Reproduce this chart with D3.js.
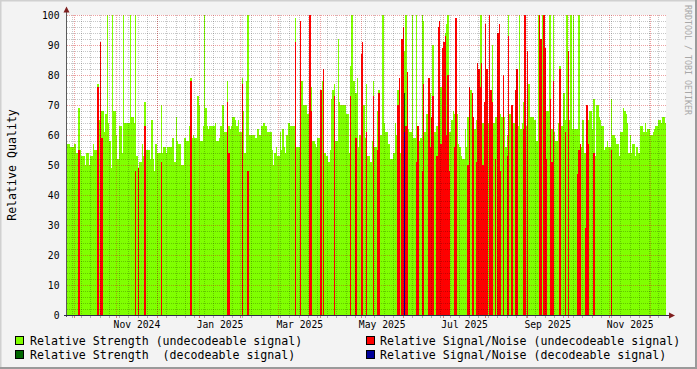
<!DOCTYPE html>
<html>
<head>
<meta charset="utf-8">
<script src="https://cdn.jsdelivr.net/npm/d3@7"></script>
<style>
  body { margin: 0; background: #f3f3f3; }
  svg { display: block; }
  text { font-family: "DejaVu Sans Mono", monospace; }
</style>
</head>
<body>
<svg id="chart"></svg>
<script>
// daily values, first day 2024-09-25
const firstDay = "2024-09-25";
const strengthUndec = [
  57,57,57,56,56,56,57,54,54,69, 55,53,53,53,50,54,54,50,53,53,
  57,55,55,77,65,65,68,68,61,67, 100,64,58,49,100,68,68,60,52,63,
  63,54,100,64,64,64,64,100,66,66, 64,100,53,49,51,51,57,53,71,55,
  55,55,52,65,52,48,57,54,54,54, 70,54,56,56,54,56,56,56,59,59,
  51,66,58,57,57,50,50,59,59,58, 58,63,79,59,60,59,59,73,70,58,
  58,63,100,69,63,62,63,63,63,63, 64,58,58,59,63,70,70,61,61,78,
  63,62,63,66,66,65,63,65,61,61, 79,68,54,78,100,60,60,60,60,60,
  59,62,62,60,63,63,64,63,63,61, 61,61,55,50,54,56,53,53,61,55,
  62,56,54,60,64,64,63,63,63,99, 56,56,56,90,78,70,70,70,67,67,
  67,76,58,58,57,56,59,59,73,78, 54,54,53,53,51,55,72,75,77,58,
  58,92,71,70,70,70,70,67,67,54, 83,100,78,78,74,79,56,60,60,60,
  70,59,77,53,53,51,58,78,56,56, 68,75,60,60,100,64,61,61,57,57,
  52,52,54,64,60,75,54,54,73,84, 88,100,62,62,61,61,100,59,59,100,
  58,58,59,100,98,61,67,67,71,74, 60,90,61,61,63,63,63,76,63,63,
  94,97,100,61,61,65,68,67,67,67, 57,56,53,52,52,62,56,66,75,75,
  66,62,62,65,65,65,100,100,64,64, 64,64,64,64,64,90,64,66,66,66,
  67,67,66,66,66,56,60,100,67,64, 64,64,64,62,63,100,62,64,71,63,
  63,63,77,66,66,66,65,65,58,100, 58,58,100,68,68,68,68,100,100,62,
  100,61,58,58,64,83,63,63,74,65, 100,65,65,100,62,100,62,62,62,100,
  56,56,65,54,54,65,65,68,68,62, 72,53,70,70,66,65,63,63,55,56,
  58,56,56,72,60,60,59,57,57,53, 61,61,69,68,67,64,54,60,54,57,
  57,53,56,54,54,63,63,61,64,61, 62,62,60,60,61,62,63,63,65,65,
  64,66,66,64
];

const snrUndecDates = [
  "2024-10-04","2024-10-18","2024-10-20","2024-10-21","2024-11-15","2024-11-17","2024-11-22","2024-12-04","2024-12-26",
  "2025-01-22","2025-01-23","2025-02-02","2025-02-06","2025-03-13","2025-03-17","2025-03-24","2025-03-25",
  "2025-04-01","2025-04-03","2025-04-11","2025-04-23","2025-04-27","2025-05-01","2025-05-02","2025-05-05","2025-05-10","2025-05-13","2025-05-14","2025-05-28","2025-05-29","2025-05-31",
  "2025-06-01","2025-06-03","2025-06-04","2025-06-11","2025-06-12","2025-06-15","2025-06-16","2025-06-20","2025-06-21","2025-06-22","2025-06-23","2025-06-26","2025-06-27","2025-06-28","2025-06-29","2025-06-30",
  "2025-07-01","2025-07-02","2025-07-03","2025-07-04","2025-07-05","2025-07-09","2025-07-10","2025-07-19","2025-07-20","2025-07-22","2025-07-23","2025-07-25","2025-07-26","2025-07-27","2025-07-28","2025-07-29","2025-07-30","2025-07-31",
  "2025-08-01","2025-08-02","2025-08-04","2025-08-05","2025-08-06","2025-08-08","2025-08-10","2025-08-11","2025-08-12","2025-08-14","2025-08-17","2025-08-18","2025-08-20","2025-08-21","2025-08-23","2025-08-24","2025-08-29","2025-08-30",
  "2025-09-01","2025-09-10","2025-09-11","2025-09-13","2025-09-14","2025-09-15","2025-09-18","2025-09-19","2025-09-20","2025-09-25","2025-09-29",
  "2025-10-01","2025-10-08","2025-10-09","2025-10-10","2025-10-14","2025-10-15","2025-10-16","2025-10-20","2025-11-02"
];
const snrUndecValues = [
  55,76,91,59,48,49,63,51,78,
  71,54,77,48,91,98,100,68,
  75,82,73,73,59,87,91,61,73,55,74,70,79,92,
  96,63,81,51,63,48,77,79,56,66,73,53,96,98,57,89,
  91,93,60,80,48,56,99,50,76,74,66,51,84,82,76,84,50,71,
  97,82,100,75,71,52,94,97,48,80,53,93,70,70,75,82,62,100,
  88,100,92,100,89,52,72,51,78,82,61,
  88,47,55,57,29,70,57,54,55
];

const strengthDecDates = ["2025-06-02"];
const strengthDecValues = [74];
const snrDecDates = ["2025-06-02"];
const snrDecValues = [61];

const labelMonths = ["2024-11","2025-01","2025-03","2025-05","2025-07","2025-09","2025-11"];
const yTicks = [0,10,20,30,40,50,60,70,80,90,100];

const legendItems = [
  {text: "Relative Strength (undecodeable signal)", color: "#80ff00", col: 0, row: 0},
  {text: "Relative Signal/Noise (undecodeable signal)", color: "#ff0000", col: 1, row: 0},
  {text: "Relative Strength  (decodeable signal)", color: "#006600", col: 0, row: 1},
  {text: "Relative Signal/Noise (decodeable signal)", color: "#000099", col: 1, row: 1}
];

const w = 697, h = 369;
const pLeft = 67, pRight = 666, pTop = 15, pBottom = 315;

const parseDay = d3.timeParse("%Y-%m-%d");
const parseMonth = d3.timeParse("%Y-%m");

const svg = d3.select("#chart").attr("width", w).attr("height", h);

// frame
svg.append("rect").attr("width", w).attr("height", h).attr("fill", "#f3f3f3");
svg.append("path").attr("d", `M0,${h} V0 H${w}`).attr("fill", "none")
  .attr("stroke", "#d0d0d0").attr("stroke-width", 3);
svg.append("path").attr("d", `M${w},0 V${h} H0`).attr("fill", "none")
  .attr("stroke", "#9a9a9a").attr("stroke-width", 4);

const xScale = d3.scaleTime()
  .domain([new Date(2024, 8, 25, 16), new Date(2025, 11, 12, 21)])
  .range([pLeft, pRight]);
const yScale = d3.scaleLinear().domain([0, 100]).range([pBottom, pTop]);

svg.append("rect").attr("x", pLeft).attr("y", pTop)
  .attr("width", pRight - pLeft).attr("height", pBottom - pTop).attr("fill", "#ffffff");

svg.append("clipPath").attr("id", "plotclip").append("rect")
  .attr("x", pLeft).attr("y", pTop).attr("width", pRight - pLeft).attr("height", pBottom - pTop);

const plot = svg.append("g").attr("clip-path", "url(#plotclip)");

const start = parseDay(firstDay);
let greenData = strengthUndec.map((v, i) => ({date: d3.timeDay.offset(start, i), v: v}));
greenData.push({date: d3.timeDay.offset(start, strengthUndec.length), v: strengthUndec[strengthUndec.length - 1]});

const area = d3.area()
  .curve(d3.curveStepAfter)
  .x(d => xScale(d.date))
  .y0(yScale(0))
  .y1(d => yScale(d.v));

plot.append("path").datum(greenData)
  .attr("d", area)
  .attr("fill", "#80ff00")
  .attr("shape-rendering", "crispEdges");

const drawBars = (dates, values, color) => {
  let rows = dates.map((d, i) => ({date: parseDay(d), v: values[i]}));
  plot.selectAll(null)
    .data(rows)
    .enter()
    .append("rect")
    .attr("x", d => xScale(d.date))
    .attr("width", d => xScale(d3.timeDay.offset(d.date, 1)) - xScale(d.date))
    .attr("y", d => yScale(d.v))
    .attr("height", d => yScale(0) - yScale(d.v))
    .attr("fill", color)
    .attr("shape-rendering", "crispEdges");
};

drawBars(strengthDecDates, strengthDecValues, "#006600");
drawBars(snrUndecDates, snrUndecValues, "#ff0000");
drawBars(snrDecDates, snrDecValues, "#000099");

// grid on top of the data
const grid = svg.append("g").attr("shape-rendering", "crispEdges");
const minorColor = "rgba(0,0,0,0.22)";
const majorColor = "rgba(210,20,20,0.4)";

grid.selectAll(".hminor")
  .data(d3.range(2, 100, 2).filter(v => v % 10 != 0))
  .enter().append("line")
  .attr("x1", pLeft).attr("x2", pRight)
  .attr("y1", d => Math.round(yScale(d)) + 0.5).attr("y2", d => Math.round(yScale(d)) + 0.5)
  .attr("stroke", minorColor).attr("stroke-dasharray", "1,1");

const weeks = d3.timeSunday.range(xScale.domain()[0], xScale.domain()[1]);
grid.selectAll(".vminor")
  .data(weeks)
  .enter().append("line")
  .attr("x1", d => Math.round(xScale(d)) + 0.5).attr("x2", d => Math.round(xScale(d)) + 0.5)
  .attr("y1", pTop).attr("y2", pBottom)
  .attr("stroke", minorColor).attr("stroke-dasharray", "1,1");

grid.selectAll(".hmajor")
  .data(yTicks.filter(v => v > 0))
  .enter().append("line")
  .attr("x1", pLeft).attr("x2", pRight)
  .attr("y1", d => Math.round(yScale(d)) + 0.5).attr("y2", d => Math.round(yScale(d)) + 0.5)
  .attr("stroke", majorColor).attr("stroke-dasharray", "1,1");

const months = d3.timeMonth.range(xScale.domain()[0], xScale.domain()[1]);
grid.selectAll(".vmajor")
  .data(months)
  .enter().append("line")
  .attr("x1", d => Math.round(xScale(d)) + 0.5).attr("x2", d => Math.round(xScale(d)) + 0.5)
  .attr("y1", pTop).attr("y2", pBottom)
  .attr("stroke", majorColor).attr("stroke-dasharray", "1,1");

// small ticks under the x axis
grid.selectAll(".wtick")
  .data(weeks)
  .enter().append("line")
  .attr("x1", d => Math.round(xScale(d)) + 0.5).attr("x2", d => Math.round(xScale(d)) + 0.5)
  .attr("y1", pBottom).attr("y2", pBottom + 3)
  .attr("stroke", "#b0b0b0");
grid.selectAll(".mtick")
  .data(months)
  .enter().append("line")
  .attr("x1", d => Math.round(xScale(d)) + 0.5).attr("x2", d => Math.round(xScale(d)) + 0.5)
  .attr("y1", pBottom).attr("y2", pBottom + 3)
  .attr("stroke", "#e08080");

// axes
const yAxis = d3.axisLeft(yScale).tickValues(yTicks).tickSize(0).tickPadding(7);
const yG = svg.append("g").attr("transform", `translate(${pLeft - 0.5},0)`).call(yAxis);
yG.select(".domain").remove();
yG.selectAll("text").attr("font-size", "9.7px").attr("fill", "#000")
  .attr("font-family", "DejaVu Sans Mono, monospace");

const midMonth = m => {
  let a = parseMonth(m);
  let b = d3.timeMonth.offset(a, 1);
  return new Date((a.getTime() + b.getTime()) / 2);
};
const xAxis = d3.axisBottom(xScale)
  .tickValues(labelMonths.map(midMonth))
  .tickSize(0).tickPadding(6.5)
  .tickFormat(d3.timeFormat("%b %Y"));
const xG = svg.append("g").attr("transform", `translate(0,${pBottom})`).call(xAxis);
xG.select(".domain").remove();
xG.selectAll("text").attr("font-size", "9.7px").attr("fill", "#000")
  .attr("font-family", "DejaVu Sans Mono, monospace");

svg.append("line").attr("x1", pLeft - 0.5).attr("x2", pLeft - 0.5)
  .attr("y1", pBottom + 2).attr("y2", 9).attr("stroke", "#5a5a5a");
svg.append("line").attr("x1", pLeft - 3).attr("x2", 670)
  .attr("y1", pBottom + 0.5).attr("y2", pBottom + 0.5).attr("stroke", "#2c2c44");

svg.append("path").attr("d", `M63.5,12.5 L69.5,12.5 L66.5,6.5 Z`).attr("fill", "#7f1f1f");
svg.append("path").attr("d", `M669,312.5 L669,318.5 L675,315.5 Z`).attr("fill", "#7f1f1f");

// labels
svg.append("text")
  .attr("transform", "translate(16,165) rotate(-90)")
  .attr("text-anchor", "middle")
  .attr("font-size", "11.6px")
  .text("Relative Quality");

svg.append("text")
  .attr("transform", "translate(684.5,5) rotate(90)")
  .attr("font-size", "8.3px")
  .attr("fill", "#a8a8a8")
  .text("RRDTOOL / TOBI OETIKER");

const legend = svg.append("g");
legend.selectAll("rect")
  .data(legendItems)
  .enter().append("rect")
  .attr("x", d => d.col == 0 ? 15.5 : 366.5)
  .attr("y", d => 336.5 + d.row * 14)
  .attr("width", 8).attr("height", 8)
  .attr("fill", d => d.color)
  .attr("stroke", "#000");
legend.selectAll("text")
  .data(legendItems)
  .enter().append("text")
  .attr("x", d => d.col == 0 ? 30 : 380)
  .attr("y", d => 345 + d.row * 14)
  .attr("font-size", "11.6px")
  .attr("xml:space", "preserve")
  .style("white-space", "pre")
  .text(d => d.text);
</script>
</body>
</html>
